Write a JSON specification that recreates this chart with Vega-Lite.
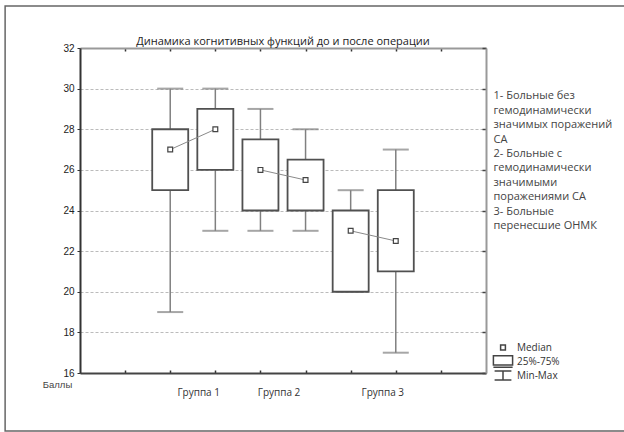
{
  "$schema": "https://vega.github.io/schema/vega-lite/v6.json",
  "width": 406,
  "height": 325,
  "autosize": "none",
  "padding": {"left": 80, "top": 48, "right": 138, "bottom": 59},
  "background": "white",
  "title": {
    "text": "Динамика когнитивных функций до и после операции",
    "font": "Open Sans",
    "fontSize": 11,
    "fontWeight": 400,
    "color": "#222",
    "anchor": "middle",
    "frame": "group",
    "baseline": "bottom",
    "offset": 3,
    "dy": 56
  },
  "data": {
    "values": [
      {"group": "Группа 1", "stage": "до", "slot": 2, "min": 19, "q1": 25, "median": 27, "q3": 28, "max": 30},
      {"group": "Группа 1", "stage": "после", "slot": 3, "min": 23, "q1": 26, "median": 28, "q3": 29, "max": 30},
      {"group": "Группа 2", "stage": "до", "slot": 4, "min": 23, "q1": 24, "median": 26, "q3": 27.5, "max": 29},
      {"group": "Группа 2", "stage": "после", "slot": 5, "min": 23, "q1": 24, "median": 25.5, "q3": 26.5, "max": 28},
      {"group": "Группа 3", "stage": "до", "slot": 6, "min": 20, "q1": 20, "median": 23, "q3": 24, "max": 25},
      {"group": "Группа 3", "stage": "после", "slot": 7, "min": 17, "q1": 21, "median": 22.5, "q3": 25, "max": 27}
    ]
  },
  "config": {
    "view": {"stroke": null}
  },
  "resolve": {"axis": {"x": "independent", "y": "independent"}},
  "layer": [
    {
      "data": {"values": [{"frame": "outer"}]},
      "mark": {"type": "rect", "fill": null, "stroke": "#666", "strokeWidth": 1.5, "clip": false},
      "encoding": {
        "x": {"datum": -1.66, "type": "quantitative", "scale": {"domain": [0, 9], "padding": 0, "nice": false, "zero": false}, "axis": null},
        "x2": {"datum": 14},
        "y": {"datum": 34.07, "type": "quantitative", "scale": {"domain": [16, 32], "padding": 0, "nice": false, "zero": false}, "axis": null},
        "y2": {"datum": 13.14}
      }
    },
    {
      "mark": {"type": "rule", "color": "#808080", "strokeWidth": 1.5},
      "encoding": {
        "x": {
          "field": "slot",
          "type": "quantitative",
          "scale": {"domain": [0, 9], "padding": 0, "nice": false, "zero": false},
          "axis": {
            "orient": "bottom",
            "values": [1, 2, 2.62, 3, 4, 4.4, 5, 6, 6.7, 7, 8],
            "labelExpr": "datum.value == 2.62 ? 'Группа 1' : datum.value == 4.4 ? 'Группа 2' : datum.value == 6.7 ? 'Группа 3' : ''",
            "tickOpacity": {"condition": {"test": "datum.value % 1 != 0", "value": 0}, "value": 1},
            "tickSize": -3,
            "tickColor": "#333",
            "tickWidth": 1.5,
            "domainColor": "#444",
            "domainWidth": 2,
            "grid": false,
            "title": null,
            "labelFont": "Open Sans",
            "labelFontSize": 10,
            "labelColor": "#333",
            "labelPadding": 17,
            "labelFlush": false,
            "labelOverlap": false
          }
        },
        "y": {
          "field": "min",
          "type": "quantitative",
          "scale": {"domain": [16, 32], "padding": 0, "nice": false, "zero": false},
          "axis": {
            "orient": "left",
            "values": [16, 18, 20, 22, 24, 26, 28, 30, 32],
            "tickSize": 3,
            "tickColor": "#333",
            "domainColor": "#333",
            "domainWidth": 2,
            "grid": true,
            "gridDash": [3, 2],
            "gridColor": "#bbb",
            "gridWidth": 1,
            "labelFont": "Liberation Sans",
            "labelFontSize": 10,
            "labelColor": "#222",
            "labelPadding": 3,
            "title": "Баллы",
            "titleAngle": 0,
            "titleX": -23,
            "titleY": 336,
            "titleAlign": "center",
            "titleBaseline": "middle",
            "titleFont": "Liberation Sans",
            "titleFontSize": 9.5,
            "titleFontWeight": "normal",
            "titleColor": "#444"
          }
        },
        "y2": {"field": "max"}
      }
    },
    {
      "mark": {"type": "tick", "orient": "horizontal", "size": 26, "thickness": 2, "color": "#808080"},
      "encoding": {
        "x": {"field": "slot", "type": "quantitative", "axis": null},
        "y": {"field": "min", "type": "quantitative", "axis": null}
      }
    },
    {
      "mark": {"type": "tick", "orient": "horizontal", "size": 26, "thickness": 2, "color": "#808080"},
      "encoding": {
        "x": {"field": "slot", "type": "quantitative", "axis": null},
        "y": {"field": "max", "type": "quantitative", "axis": null}
      }
    },
    {
      "mark": {"type": "bar", "orient": "vertical", "width": 36, "fill": "white", "stroke": "#505050", "strokeWidth": 1.8},
      "encoding": {
        "x": {
          "field": "slot",
          "type": "quantitative",
          "axis": {
            "orient": "top",
            "values": [1, 2, 3, 4, 5, 6, 7, 8],
            "labels": false,
            "tickSize": -3,
            "tickColor": "#333",
            "tickWidth": 1.5,
            "domainColor": "#999",
            "domainWidth": 2,
            "grid": false,
            "title": null
          }
        },
        "y": {
          "field": "q1",
          "type": "quantitative",
          "axis": {
            "orient": "right",
            "values": [16, 18, 20, 22, 24, 26, 28, 30, 32],
            "labels": false,
            "tickSize": -4,
            "tickColor": "#444",
            "tickWidth": 1.5,
            "domainColor": "#999",
            "domainWidth": 2,
            "grid": false,
            "title": null
          }
        },
        "y2": {"field": "q3"}
      }
    },
    {
      "mark": {"type": "line", "color": "#8a8a8a", "strokeWidth": 1},
      "encoding": {
        "x": {"field": "slot", "type": "quantitative", "axis": null},
        "y": {"field": "median", "type": "quantitative", "axis": null},
        "detail": {"field": "group"}
      }
    },
    {
      "mark": {"type": "point", "filled": true, "fill": "white", "stroke": "#444", "strokeWidth": 1.2, "size": 36, "opacity": 1},
      "encoding": {
        "x": {"field": "slot", "type": "quantitative", "axis": null},
        "y": {"field": "median", "type": "quantitative", "axis": null},
        "shape": {
          "datum": "Median",
          "scale": {
            "domain": ["Median", "25%-75%", "Min-Max"],
            "range": [
              "M-0.8,-0.8H0.8V0.8H-0.8Z",
              "M-3.2,-1.9H3.2V1.2H-3.2Z M-3.2,1.9H3.2",
              "M-2.8,-1.5H2.8 M0,-1.5V1.5 M-2.8,1.5H2.8"
            ]
          },
          "legend": {
            "orient": "none",
            "legendX": 418,
            "legendY": 294.5,
            "title": null,
            "symbolSize": 36,
            "gridAlign": "all",
            "labelFont": "Open Sans",
            "labelFontSize": 10,
            "labelColor": "#333",
            "labelOffset": 9,
            "rowPadding": -4.5,
            "padding": 0,
            "encode": {
              "symbols": {
                "update": {
                  "fill": {"value": "white"},
                  "stroke": {"value": "#444"},
                  "strokeWidth": {"value": 1.2},
                  "opacity": {"value": 1}
                }
              }
            }
          }
        }
      }
    },
    {
      "data": {
        "values": [
          {
            "note": [
              "1- Больные без",
              " гемодинамически",
              " значимых поражений",
              " СА",
              "2- Больные с",
              "гемодинамически",
              "значимыми",
              "поражениями СА",
              "3- Больные",
              "перенесшие ОНМК"
            ]
          }
        ]
      },
      "mark": {"type": "text", "align": "left", "baseline": "alphabetic", "font": "Open Sans", "fontSize": 11, "fontWeight": 400, "color": "#444", "lineHeight": 14.4, "clip": false},
      "encoding": {
        "x": {"datum": 9.167, "type": "quantitative", "axis": null},
        "y": {"datum": 29.47, "type": "quantitative", "axis": null},
        "text": {"field": "note"}
      }
    }
  ]
}
